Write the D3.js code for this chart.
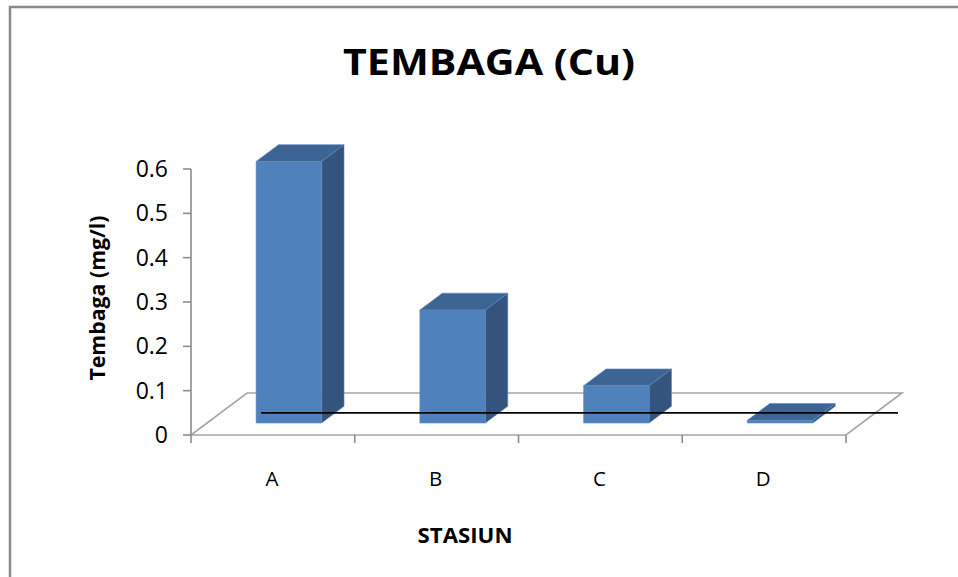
<!DOCTYPE html>
<html>
<head>
<meta charset="utf-8">
<script src="https://cdn.jsdelivr.net/npm/d3@7"></script>
<style>
  html, body { margin: 0; padding: 0; background: #fff; }
  svg { display: block; }
  text { font-family: "Open Sans", Lato, "DejaVu Sans", sans-serif; fill: #000; }
</style>
</head>
<body>
<svg id="chart" width="958" height="577"></svg>
<script>
// Copper concentration per sampling station
const categories = ["A", "B", "C", "D"];
const values = [0.59, 0.255, 0.084, 0.006];
const yTicks = [0, 0.1, 0.2, 0.3, 0.4, 0.5, 0.6];
const tickLabels = ["0", "0.1", "0.2", "0.3", "0.4", "0.5", "0.6"];
const threshold = 0.05;

const titleText = "TEMBAGA (Cu)";
const yTitle = "Tembaga (mg/l)";
const xTitle = "STASIUN";

const svg = d3.select("#chart");

// chart frame
svg.append("rect")
  .attr("x", 10).attr("y", 7)
  .attr("width", 980).attr("height", 600)
  .attr("fill", "#fff")
  .attr("stroke", "#898989").attr("stroke-width", 2.5);

// plot geometry
const x = d3.scaleBand().domain(categories).range([191, 846]);
const y = d3.scaleLinear().domain([0, 0.6]).range([435, 169]);
const depth = { dx: 56, dy: -42 };       // full floor depth projection
const barFront = 0.2857, barDepth = 0.4;  // bar position within floor depth
const barFrac = 0.4;                      // bar width as fraction of band

const proj = (px, v, d) => [px + d * depth.dx, y(v) + d * depth.dy];

// floor
const x0 = x.range()[0], x1 = x.range()[1];
const floor = [proj(x0, 0, 0), proj(x1, 0, 0), proj(x1, 0, 1), proj(x0, 0, 1)];
svg.append("polygon")
  .attr("points", floor.map(p => p.join(",")).join(" "))
  .attr("fill", "none")
  .attr("stroke", "#a5a5a5").attr("stroke-width", 1.6)
  .attr("stroke-linejoin", "miter");

// value axis
const yAxis = svg.append("g");
yAxis.append("line")
  .attr("x1", x0).attr("x2", x0)
  .attr("y1", y(0.6)).attr("y2", y(0))
  .attr("stroke", "#8c8c8c").attr("stroke-width", 1.6);
yAxis.selectAll("line.tick").data(yTicks).join("line")
  .attr("class", "tick")
  .attr("x1", x0 - 8).attr("x2", x0)
  .attr("y1", d => y(d)).attr("y2", d => y(d))
  .attr("stroke", "#8c8c8c").attr("stroke-width", 1.6);
yAxis.selectAll("text").data(yTicks).join("text")
  .attr("x", x0 - 23)
  .attr("y", d => y(d) + 8)
  .attr("text-anchor", "end")
  .attr("font-size", 23)
  .text((d, i) => tickLabels[i]);

// category axis ticks
const tickXs = categories.map(c => x(c)).concat([x1]);
svg.selectAll("line.xtick").data(tickXs).join("line")
  .attr("class", "xtick")
  .attr("x1", d => d).attr("x2", d => d)
  .attr("y1", y(0)).attr("y2", y(0) + 8)
  .attr("stroke", "#8c8c8c").attr("stroke-width", 1.6);
svg.selectAll("text.xlab").data(categories).join("text")
  .attr("class", "xlab")
  .attr("x", d => x(d) + x.bandwidth() / 2 - 1)
  .attr("y", 486)
  .attr("text-anchor", "middle")
  .attr("font-size", 20.5)
  .text(d => d);

// 3D columns
const bars = svg.append("g");
categories.forEach((c, i) => {
  const v = values[i];
  const bw = x.bandwidth() * barFrac;
  const left = x(c) + (x.bandwidth() - bw) / 2;
  const right = left + bw;
  const dF = barFront, dB = barFront + barDepth;
  const fTL = proj(left, v, dF), fTR = proj(right, v, dF);
  const fBL = proj(left, 0, dF), fBR = proj(right, 0, dF);
  const bTL = proj(left, v, dB), bTR = proj(right, v, dB), bBR = proj(right, 0, dB);
  const g = bars.append("g");
  const poly = (pts, fill) => g.append("polygon")
    .attr("points", pts.map(p => p.join(",")).join(" "))
    .attr("fill", fill)
    .attr("stroke", "#5d88bf").attr("stroke-width", 0.6)
    .attr("stroke-linejoin", "round");
  poly([fTR, bTR, bBR, fBR], "#34547e");   // side
  poly([fTL, fTR, bTR, bTL], "#3d6594");   // top
  poly([fTL, fTR, fBR, fBL], "#4f81bd");   // front
});

// reference level line
const lineStart = x(categories[0]) + x.bandwidth() * (1 - barFrac) / 2 + barFront * depth.dx + 5;
const lineEnd = x1 + depth.dx - 4;
svg.append("line")
  .attr("x1", lineStart).attr("x2", lineEnd)
  .attr("y1", y(threshold)).attr("y2", y(threshold))
  .attr("stroke", "#000").attr("stroke-width", 1.8);

// titles
svg.append("text")
  .attr("x", 489).attr("y", 75)
  .attr("text-anchor", "middle")
  .attr("font-size", 36).attr("font-weight", "bold")
  .attr("textLength", 292).attr("lengthAdjust", "spacingAndGlyphs")
  .text(titleText);

svg.append("text")
  .attr("transform", "translate(105,298) rotate(-90)")
  .attr("text-anchor", "middle")
  .attr("font-size", 21).attr("font-weight", "bold")
  .attr("textLength", 165).attr("lengthAdjust", "spacingAndGlyphs")
  .text(yTitle);

svg.append("text")
  .attr("x", 465).attr("y", 543)
  .attr("text-anchor", "middle")
  .attr("font-size", 21).attr("font-weight", "bold")
  .attr("textLength", 95).attr("lengthAdjust", "spacingAndGlyphs")
  .text(xTitle);
</script>
</body>
</html>
